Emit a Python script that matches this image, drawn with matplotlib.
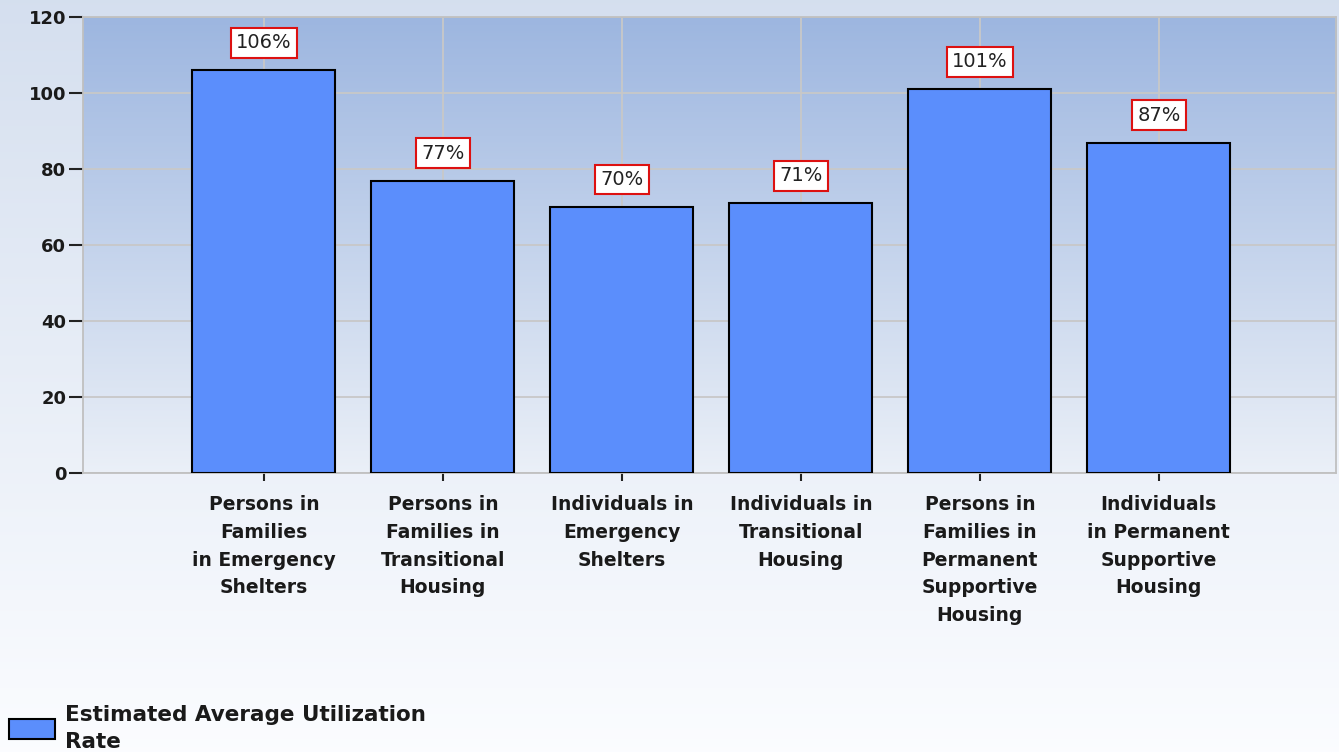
import numpy as np
from matplotlib import pyplot as plt

categories = ["Persons in\nFamilies\nin Emergency\nShelters",
              "Persons in\nFamilies in\nTransitional\nHousing",
              "Individuals in\nEmergency\nShelters",
              "Individuals in\nTransitional\nHousing",
              "Persons in\nFamilies in\nPermanent\nSupportive\nHousing",
              "Individuals\nin Permanent\nSupportive\nHousing"]
rates = [106, 77, 70, 71, 101, 87]
rate_labels = ["106%", "77%", "70%", "71%", "101%", "87%"]
series_name = "Estimated Average Utilization\nRate"

plt.rcParams['font.family'] = ['DejaVu Sans']

fig = plt.figure(figsize=(13.39, 7.52), dpi=100)

# figure background gradient
bg = fig.add_axes([0, 0, 1, 1], zorder=-10)
grad = np.linspace(0, 1, 256).reshape(-1, 1)
top_c = np.array([0.835, 0.875, 0.937])
bot_c = np.array([0.985, 0.99, 1.0])
img = top_c + (bot_c - top_c) * grad[:, :, None]
bg.imshow(img, aspect="auto", extent=[0, 1, 0, 1], origin="upper")
bg.axis("off")

ax = fig.add_axes([0.062, 0.371, 0.9358, 0.606])
ax.patch.set_alpha(0)

# plot area gradient
ptop = np.array([0.615, 0.714, 0.878])
pbot = np.array([0.92, 0.94, 0.97])
pimg = ptop + (pbot - ptop) * grad[:, :, None]
ax.imshow(pimg, aspect="auto", extent=[-1.01, 5.99, 0, 120], origin="upper", zorder=0)

x = np.arange(len(categories))
bars = ax.bar(x, rates, width=0.8, color="#5b8efc", edgecolor="black", linewidth=1.5,
              zorder=3, label=series_name)

for rect, lab in zip(bars, rate_labels):
    ax.annotate(lab, (rect.get_x() + rect.get_width() / 2, rect.get_height()),
                xytext=(0, 13), textcoords="offset points", ha="center", va="bottom",
                fontsize=14, color="#222222", zorder=5,
                bbox=dict(boxstyle="square,pad=0.27", fc="white", ec="#dd1111", lw=1.5))

ax.set_xlim(-1.01, 5.99)
ax.set_ylim(0, 120)
ax.set_yticks(range(0, 121, 20))
ax.set_xticks(x)
ax.set_xticklabels(categories, fontsize=13.5, linespacing=1.58)
ax.grid(True, color="#c8c8c8", linewidth=1.3, zorder=1)
ax.set_axisbelow(True)
for s in ax.spines.values():
    s.set_color("#c0c0c0")
    s.set_linewidth(1.3)
ax.tick_params(axis="y", length=10, width=1.5, color="#222222", labelsize=13, pad=2)
ax.tick_params(axis="x", length=6, width=1.5, color="#222222", pad=10)
for t in ax.get_yticklabels() + ax.get_xticklabels():
    t.set_fontweight("bold")
    t.set_color("#1a1a1a")

leg = fig.legend(loc="lower left", bbox_to_anchor=(0.0, -0.012), frameon=False,
                 prop={"weight": "bold", "size": 15.5}, handlelength=2.15, handleheight=1.05,
                 handletextpad=0.45, borderaxespad=0.2, borderpad=0.2)
for t in leg.get_texts():
    t.set_linespacing(1.45)
    t.set_color("#1a1a1a")

fig.savefig("out.png", dpi=100)
